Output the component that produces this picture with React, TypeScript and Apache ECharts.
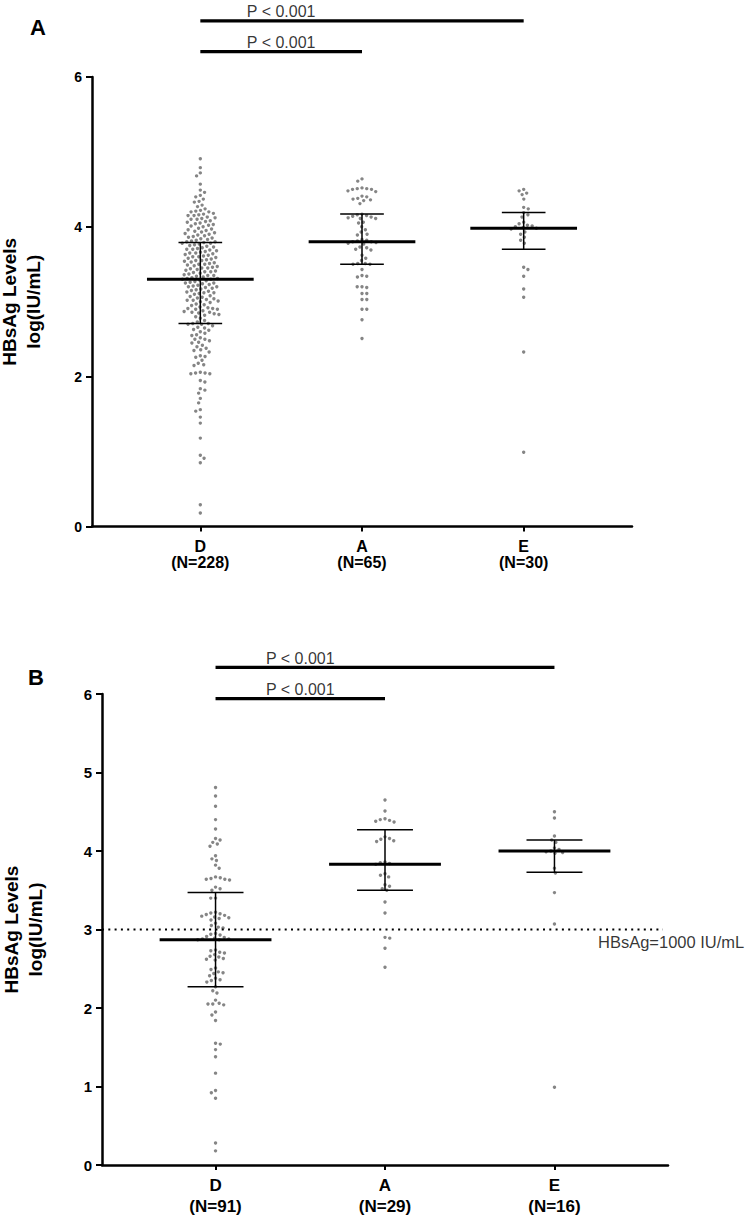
import React, { useEffect, useRef } from "react";
import * as echarts from "echarts";

const categories = ["D", "A", "E"];
const nLabelsA = ["(N=228)", "(N=65)", "(N=30)"];
const nLabelsB = ["(N=91)", "(N=29)", "(N=16)"];
const pLabel = "P < 0.001";
const thresholdLabel = "HBsAg=1000 IU/mL";
const thresholdValue = 3;
const yName = "HBsAg Levels\nlog(IU/mL)";

// Panel A values (log IU/mL)
const panelA_D = [
  4.91, 4.79, 4.72, 4.68, 4.57, 4.49, 4.46, 4.42, 4.40, 4.37, 4.34, 4.33, 4.29, 4.27,
  4.24, 4.22, 4.21, 4.20, 4.20, 4.18,
  4.17, 4.16, 4.15, 4.15, 4.13, 4.12, 4.11, 4.10, 4.10,
  4.08, 4.07, 4.06, 4.05, 4.04, 4.03, 4.02, 4.01, 4.00,
  3.98, 3.97, 3.96, 3.95, 3.94, 3.93, 3.92, 3.91, 3.90,
  3.89, 3.88, 3.87, 3.86, 3.85, 3.84, 3.83, 3.82, 3.81, 3.80, 3.80,
  3.79, 3.78, 3.78, 3.77, 3.76, 3.75, 3.74, 3.73, 3.72, 3.71, 3.70, 3.70,
  3.69, 3.68, 3.67, 3.66, 3.65, 3.65, 3.64, 3.63, 3.62, 3.61, 3.60, 3.60,
  3.59, 3.58, 3.57, 3.56, 3.55, 3.55, 3.54, 3.53, 3.52, 3.51, 3.50, 3.50,
  3.49, 3.48, 3.47, 3.46, 3.45, 3.45, 3.44, 3.43, 3.42, 3.41, 3.40, 3.40,
  3.39, 3.38, 3.37, 3.36, 3.35, 3.35, 3.34, 3.33, 3.32, 3.31, 3.31, 3.30, 3.30,
  3.29, 3.28, 3.27, 3.26, 3.25, 3.25, 3.24, 3.23, 3.22, 3.21, 3.20, 3.20,
  3.19, 3.18, 3.17, 3.16, 3.15, 3.14, 3.13, 3.12, 3.12, 3.11, 3.10,
  3.08, 3.07, 3.06, 3.05, 3.04, 3.03, 3.02, 3.02, 3.01, 3.00,
  2.99, 2.97, 2.96, 2.95, 2.93, 2.92, 2.91, 2.91, 2.90, 2.90,
  2.88, 2.87, 2.86, 2.86, 2.85, 2.84, 2.83, 2.82, 2.80,
  2.78, 2.75, 2.73, 2.71, 2.71, 2.70, 2.70,
  2.68, 2.66, 2.65, 2.63, 2.62, 2.60,
  2.58, 2.56, 2.55, 2.52, 2.50, 2.50,
  2.48, 2.46, 2.45, 2.42, 2.40,
  2.38, 2.36, 2.35, 2.33,
  2.28, 2.27, 2.26, 2.22,
  2.18, 2.16, 2.15,
  2.06, 2.05, 2.05, 2.04, 2.04,
  1.95, 1.93, 1.84, 1.82, 1.78, 1.71, 1.65, 1.56, 1.54, 1.46, 1.38, 1.18, 0.95, 0.91, 0.85, 0.29, 0.18,
];
const panelA_A = [
  4.64, 4.61,
  4.52, 4.51, 4.51, 4.50, 4.50, 4.48, 4.47,
  4.41, 4.40, 4.38, 4.37, 4.36, 4.35, 4.31,
  4.17, 4.16, 4.15, 4.14, 4.13, 4.12, 4.11, 4.11,
  4.06, 4.05,
  4.00, 3.96, 3.93,
  3.90, 3.89,
  3.83, 3.82, 3.81, 3.80, 3.80, 3.79, 3.78, 3.77,
  3.73, 3.72, 3.70, 3.69,
  3.62, 3.58, 3.55,
  3.51, 3.51, 3.50, 3.50,
  3.43,
  3.35, 3.34, 3.33,
  3.20, 3.20, 3.19,
  3.11, 3.11,
  3.03, 3.03,
  2.90, 2.90,
  2.76,
  2.51,
];
const panelA_E = [
  4.50, 4.48, 4.45, 4.43, 4.37, 4.26, 4.24, 4.19, 4.16, 4.13,
  4.06, 4.04, 4.02, 4.01, 4.00, 3.99, 3.98, 3.97,
  3.93, 3.90, 3.86, 3.82, 3.78,
  3.46, 3.43, 3.34, 3.17, 3.06, 2.33, 0.99,
];
const meanA = [3.30, 3.80, 3.98];
const lowA = [2.71, 3.50, 3.70];
const highA = [3.79, 4.17, 4.19];

// Panel B values (log IU/mL)
const panelB_D = [
  4.81, 4.70, 4.57, 4.40, 4.28,
  4.16, 4.14, 4.11, 4.09, 4.06,
  3.94, 3.90, 3.88, 3.82, 3.78,
  3.67, 3.66, 3.65, 3.64, 3.64, 3.63,
  3.54, 3.52, 3.50,
  3.40, 3.40,
  3.22, 3.21, 3.20, 3.19, 3.18, 3.17, 3.16, 3.15, 3.14, 3.12,
  3.08, 3.05, 3.03, 3.02,
  2.95, 2.94, 2.93, 2.91, 2.90, 2.89, 2.88, 2.88, 2.87, 2.87,
  2.74, 2.73, 2.71, 2.70, 2.68, 2.66, 2.65, 2.63, 2.62, 2.61,
  2.51, 2.49, 2.46, 2.45, 2.44, 2.41, 2.38, 2.36, 2.35, 2.33,
  2.27, 2.22, 2.19,
  2.10, 2.06, 2.05, 2.05, 2.04,
  1.95, 1.91, 1.84, 1.55, 1.54, 1.47, 1.38, 1.17, 0.95, 0.92, 0.85, 0.28, 0.18,
];
const panelB_A = [
  4.65, 4.51, 4.41, 4.40, 4.39, 4.38, 4.37, 4.18, 4.16, 4.15, 4.13, 4.12,
  3.86, 3.85, 3.84, 3.83, 3.71, 3.69, 3.67, 3.57, 3.55, 3.52, 3.50, 3.35, 3.21, 2.90, 2.89, 2.76, 2.52,
];
const panelB_E = [
  4.50, 4.42, 4.19, 4.14, 4.11, 4.04, 4.02, 4.00, 3.99, 3.98, 3.97, 3.78, 3.72, 3.47, 3.07, 0.99,
];
const meanB = [2.87, 3.83, 4.00];
const lowB = [2.27, 3.50, 3.73];
const highB = [3.47, 4.27, 4.14];

const FONT = "'Liberation Sans', Arial, Helvetica, sans-serif";
const X_MIN = 0.33;
const X_MAX = 3.67;

// beeswarm layout: returns [x, y] data points; offsets computed in pixels
function swarm(values: number[], center: number, pxPerX: number, pxPerY: number, d: number) {
  const idx = values.map((_, i) => i).sort((a, b) => values[b] - values[a]);
  const placed: { x: number; y: number }[] = [];
  const out: number[][] = [];
  let flip = 1;
  for (const i of idx) {
    const y = values[i] * pxPerY;
    const near = placed.filter((p) => Math.abs(p.y - y) < d);
    const cands = [0];
    for (const p of near) {
      const dx = Math.sqrt(Math.max(0, d * d - (p.y - y) * (p.y - y)));
      cands.push(p.x + dx, p.x - dx);
    }
    cands.sort((a, b) => Math.abs(a) - Math.abs(b) || flip * (b - a));
    flip = -flip;
    let best = 0;
    for (const c of cands) {
      if (near.every((p) => (p.x - c) * (p.x - c) + (p.y - y) * (p.y - y) >= d * d - 0.01)) {
        best = c;
        break;
      }
    }
    placed.push({ x: best, y });
    out.push([center + best / pxPerX, values[i]]);
  }
  return out;
}

export default function App() {
  const ref = useRef<HTMLDivElement>(null);
  useEffect(() => {
    document.body.style.margin = "0";
    if (!ref.current) return;
    const chart = echarts.init(ref.current, undefined, { renderer: "svg" });

    const gA = { left: 92, top: 77, width: 540, height: 449.5 };
    const gB = { left: 102, top: 694, width: 566, height: 471 };
    const pxXA = gA.width / (X_MAX - X_MIN);
    const pxYA = gA.height / 6;
    const pxXB = gB.width / (X_MAX - X_MIN);
    const pxYB = gB.height / 6;
    const dotD = 4.8;

    const dotsA = [panelA_D, panelA_A, panelA_E].flatMap((vals, i) => swarm(vals, i + 1, pxXA, pxYA, dotD));
    const dotsB = [panelB_D, panelB_A, panelB_E].flatMap((vals, i) => swarm(vals, i + 1, pxXB, pxYB, dotD));

    const errA = categories.map((_, i) => [i + 1, meanA[i], lowA[i], highA[i]]);
    const errB = categories.map((_, i) => [i + 1, meanB[i], lowB[i], highB[i]]);

    const makeErr = (capHalf: number) => (params: any, api: any) => {
      const x = api.value(0);
      const pm = api.coord([x, api.value(1)]);
      const pl = api.coord([x, api.value(2)]);
      const ph = api.coord([x, api.value(3)]);
      const mh = api.size([0.33, 0])[0];
      const ch = api.size([capHalf, 0])[0];
      const st = { stroke: "#000", lineWidth: 1.5 };
      return {
        type: "group",
        children: [
          { type: "line", shape: { x1: pl[0], y1: pl[1], x2: ph[0], y2: ph[1] }, style: st },
          { type: "line", shape: { x1: pl[0] - ch, y1: pl[1], x2: pl[0] + ch, y2: pl[1] }, style: st },
          { type: "line", shape: { x1: ph[0] - ch, y1: ph[1], x2: ph[0] + ch, y2: ph[1] }, style: st },
          { type: "line", shape: { x1: pm[0] - mh, y1: pm[1], x2: pm[0] + mh, y2: pm[1] }, style: { stroke: "#000", lineWidth: 3 } },
        ],
      };
    };

    const xAxisBase = (grid: number, nLabels: string[], fs: number, lh: number, margin: number) => ({
      type: "value",
      gridIndex: grid,
      min: X_MIN,
      max: X_MAX,
      splitLine: { show: false },
      axisLine: { show: true, lineStyle: { color: "#000", width: 2.5 } },
      axisTick: { show: true, customValues: [1, 2, 3], length: 5, lineStyle: { color: "#000", width: 2 } },
      axisLabel: {
        customValues: [1, 2, 3],
        margin,
        color: "#000",
        fontFamily: FONT,
        fontWeight: "bold",
        fontSize: fs,
        lineHeight: lh,
        formatter: (v: number) => {
          const i = Math.round(v) - 1;
          return categories[i] + "\n" + nLabels[i];
        },
      },
    });

    const yAxisBase = (grid: number, interval: number, gap: number, fs: number) => ({
      type: "value",
      gridIndex: grid,
      min: 0,
      max: 6,
      interval,
      splitLine: { show: false },
      axisLine: { show: true, lineStyle: { color: "#000", width: 2.5 } },
      axisTick: { show: true, length: 6, lineStyle: { color: "#000", width: 2 } },
      axisLabel: { color: "#000", fontFamily: FONT, fontWeight: "bold", fontSize: fs, margin: 10 },
      name: yName,
      nameLocation: "middle",
      nameRotate: 90,
      nameGap: gap,
      nameTextStyle: { color: "#000", fontFamily: FONT, fontWeight: "bold", fontSize: 19, lineHeight: 24 },
    });

    const sigLine = (xi: number, yi: number, x2: number, y: number) => ({
      type: "line",
      xAxisIndex: xi,
      yAxisIndex: yi,
      data: [[1, y], [x2, y]],
      symbol: "none",
      clip: false,
      silent: true,
      lineStyle: { color: "#000", width: 3.2 },
      z: 5,
    });

    const pText = (xi: number, yi: number, ys: number[]) => ({
      type: "scatter",
      xAxisIndex: xi,
      yAxisIndex: yi,
      data: ys.map((y) => [1.5, y]),
      symbolSize: 0,
      clip: false,
      silent: true,
      label: {
        show: true,
        position: "top",
        distance: 1,
        formatter: pLabel,
        color: "#000",
        fontFamily: FONT,
        fontSize: 16,
      },
    });

    const dotStyle = { color: "#666666" };

    const option: any = {
      animation: false,
      backgroundColor: "#fff",
      grid: [
        { ...gA, containLabel: false, outerBoundsMode: "none" },
        { ...gB, containLabel: false, outerBoundsMode: "none" },
      ],
      xAxis: [xAxisBase(0, nLabelsA, 16, 16, 12), xAxisBase(1, nLabelsB, 17, 21, 10)],
      yAxis: [yAxisBase(0, 2, 47, 14), yAxisBase(1, 1, 55, 15)],
      graphic: [
        { type: "text", left: 30, top: 16, style: { text: "A", fontFamily: FONT, fontWeight: "bold", fontSize: 22, fill: "#000" } },
        { type: "text", left: 28, top: 666, style: { text: "B", fontFamily: FONT, fontWeight: "bold", fontSize: 22, fill: "#000" } },
      ],
      series: [
        { type: "scatter", xAxisIndex: 0, yAxisIndex: 0, data: dotsA, symbolSize: 3.4, itemStyle: dotStyle, silent: true, z: 2 },
        { type: "scatter", xAxisIndex: 1, yAxisIndex: 1, data: dotsB, symbolSize: 3.4, itemStyle: dotStyle, silent: true, z: 2 },
        { type: "custom", xAxisIndex: 0, yAxisIndex: 0, data: errA, renderItem: makeErr(0.135), z: 4, silent: true },
        { type: "custom", xAxisIndex: 1, yAxisIndex: 1, data: errB, renderItem: makeErr(0.165), z: 4, silent: true },
        sigLine(0, 0, 3, 6.75),
        sigLine(0, 0, 2, 6.34),
        sigLine(1, 1, 3, 6.34),
        sigLine(1, 1, 2, 5.94),
        pText(0, 0, [6.75, 6.34]),
        pText(1, 1, [6.34, 5.94]),
        {
          type: "line",
          xAxisIndex: 1,
          yAxisIndex: 1,
          data: [[X_MIN, thresholdValue], [3.64, thresholdValue]],
          symbol: "none",
          silent: true,
          lineStyle: { color: "#000", width: 2, type: [2, 4.3] },
          z: 3,
        },
        {
          type: "scatter",
          xAxisIndex: 1,
          yAxisIndex: 1,
          data: [[4.12, thresholdValue - 0.16]],
          symbolSize: 0,
          clip: false,
          silent: true,
          label: {
            show: true,
            position: "left",
            distance: 0,
            formatter: thresholdLabel,
            color: "#000",
            fontFamily: FONT,
            fontSize: 16.5,
          },
        },
      ],
    };
    chart.setOption(option);
    return () => chart.dispose();
  }, []);
  return <div ref={ref} style={{ width: 750, height: 1224 }} />;
}
